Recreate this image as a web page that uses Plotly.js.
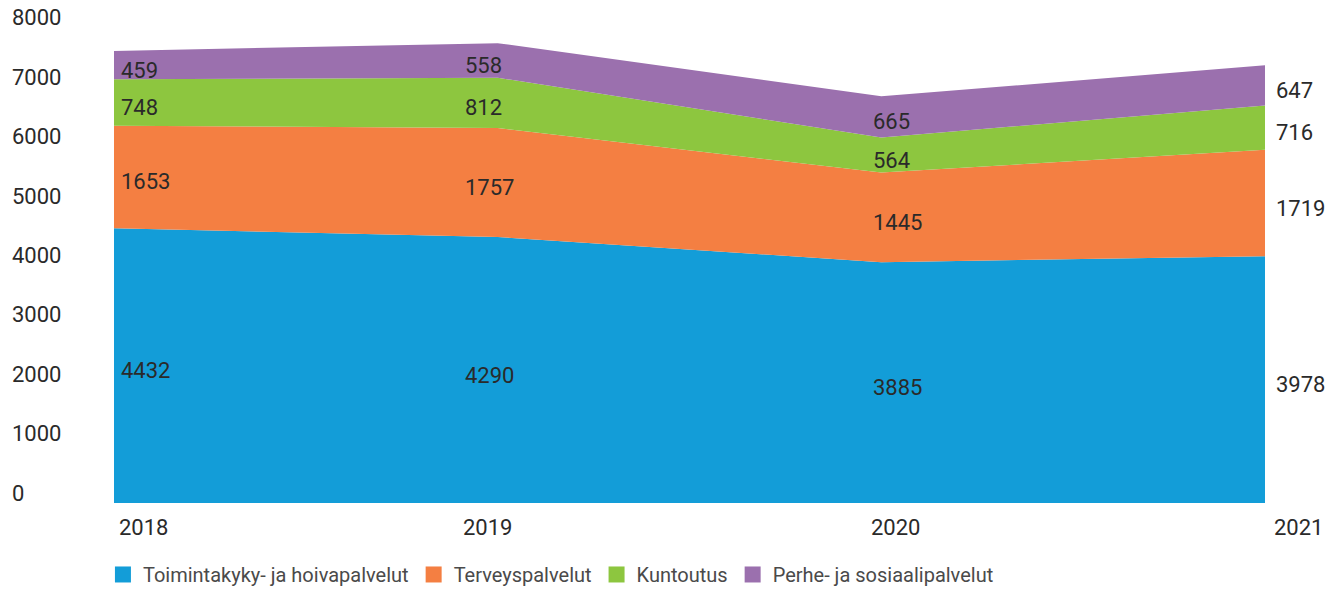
<!DOCTYPE html>
<html>
<head>
<meta charset="utf-8">
<script src="https://cdn.plot.ly/plotly-3.0.1.min.js"></script>
<style>html,body{margin:0;padding:0;background:#fff;}#chart{width:1332px;height:589px;}</style>
</head>
<body>
<div id="chart"></div>
<script>
const years = ["2018", "2019", "2020", "2021"];
const seriesNames = ["Toimintakyky- ja hoivapalvelut", "Terveyspalvelut", "Kuntoutus", "Perhe- ja sosiaalipalvelut"];
const hoiva = [4432, 4290, 3885, 3978];
const terveys = [1653, 1757, 1445, 1719];
const kuntoutus = [748, 812, 564, 716];
const perhe = [459, 558, 665, 647];
const yTicks = [0, 1000, 2000, 3000, 4000, 5000, 6000, 7000, 8000];

const colors = ["#139dd8", "#f47f42", "#8dc63f", "#9b70ae"];
const series = [hoiva, terveys, kuntoutus, perhe];
function lf() { return {family: "Roboto, sans-serif", size: 22, color: "#2a2a2a"}; }

const traces = [];
series.forEach((vals, i) => {
  traces.push({
    type: "scatter", x: years, y: vals, stackgroup: "one", mode: "none",
    fillcolor: colors[i], line: {width: 0}, name: seriesNames[i],
    showlegend: false, hoverinfo: "skip"
  });
});
series.forEach((vals, i) => {
  traces.push({
    type: "scatter", x: [null], y: [null], mode: "markers", name: seriesNames[i],
    marker: {symbol: "square", size: 18, color: colors[i]}, showlegend: true, hoverinfo: "skip"
  });
});
traces.push({type: "scatter", x: [null], y: [null], yaxis: "y2", showlegend: false, hoverinfo: "skip", mode: "none"});

// label placement per year column (left-aligned text, pixel shift from the year position)
const colShift = [5, -35, -10, 9];
const annotations = [];
years.forEach((yr, j) => {
  let cum = 0;
  series.forEach((vals, i) => {
    const v = vals[j];
    annotations.push({
      x: j, y: cum + v / 2, xref: "x", yref: "y", text: String(v), showarrow: false,
      xanchor: "left", xshift: colShift[j], yanchor: "middle", yshift: -5,
      font: lf()
    });
    cum += v;
  });
  annotations.push({
    x: j, y: 0, xref: "x", yref: "y", text: yr, showarrow: false,
    xanchor: "left", xshift: colShift[j] - 2, yanchor: "top", yshift: -10,
    font: lf()
  });
});
yTicks.forEach(t => {
  annotations.push({
    x: 0, y: t, xref: "paper", yref: "y2", text: String(t), showarrow: false,
    xanchor: "left", xshift: 0, yanchor: "middle", font: lf()
  });
});

const layout = {
  width: 1332, height: 589,
  margin: {l: 10, r: 0, t: 7, b: 86, autoexpand: false},
  paper_bgcolor: "#ffffff", plot_bgcolor: "#ffffff",
  showlegend: true,
  legend: {orientation: "h", traceorder: "normal", x: 0.0703, xanchor: "left", y: -0.1048, yanchor: "top",
    font: {family: "Roboto, sans-serif", size: 20, color: "#4a4a4a"}},
  xaxis: {type: "category", domain: [0.07867, 0.94932], range: [0, 3], showgrid: false, zeroline: false,
    showline: false, showticklabels: false, ticks: ""},
  yaxis: {range: [0, 8000], showgrid: false, zeroline: false, showline: false, showticklabels: false, ticks: ""},
  yaxis2: {overlaying: "y", side: "left", range: [-168, 8185], showticklabels: false, ticks: "",
    showgrid: false, zeroline: false, showline: false},
  annotations: annotations
};

Plotly.newPlot("chart", traces, layout, {displayModeBar: false, staticPlot: true});
</script>
</body>
</html>
